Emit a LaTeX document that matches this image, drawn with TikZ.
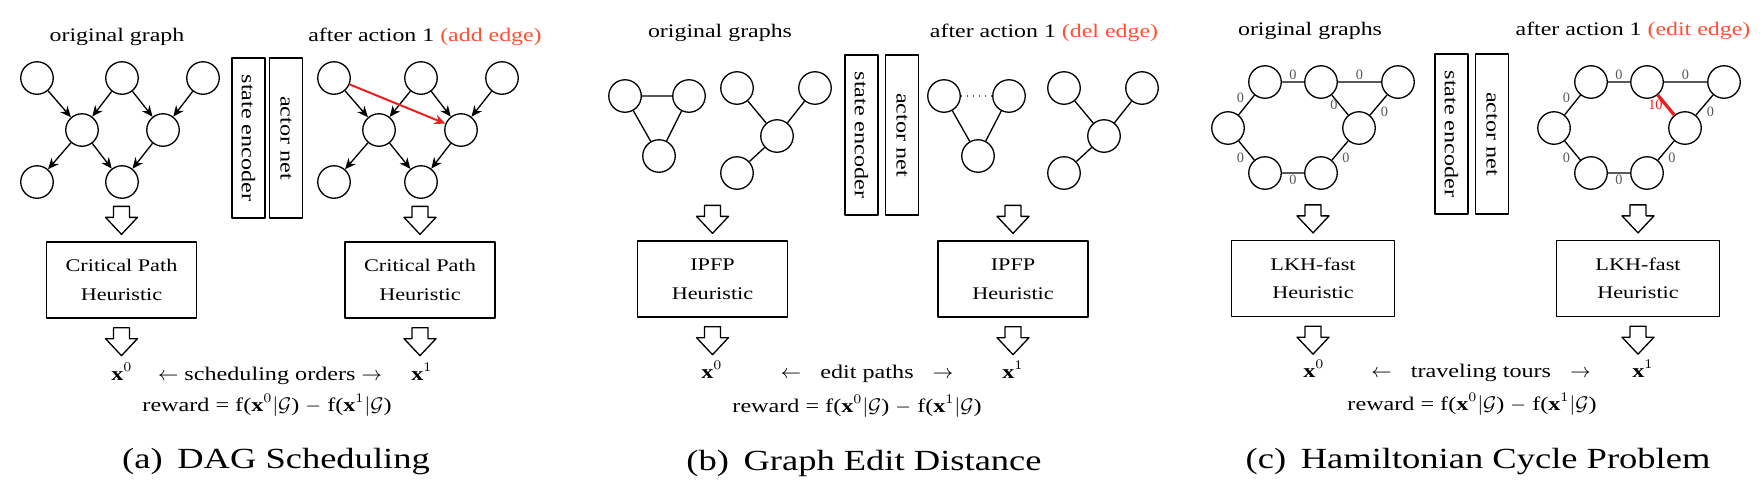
\documentclass[tikz,border=0pt]{standalone}
\usepackage{fontspec}
\setmainfont{Liberation Serif}[FakeStretch=1.25]
\newfontfamily\wtfont{Liberation Serif}
\usetikzlibrary{arrows.meta,calc}
\definecolor{actred}{RGB}{255,80,50}
\definecolor{edgered}{RGB}{235,30,30}

\begin{document}
\begin{tikzpicture}[x=0.016cm,y=-0.016cm,>={Stealth[length=5pt,width=4.4pt]},line join=round,line width=.6pt,
	vtx/.style={circle,draw,minimum size=0.52cm,inner sep=0pt},
	heur/.style={draw,minimum width=2.4cm,minimum height=1.216cm,align=center,font=\fontsize{8.1}{13}\selectfont},
	net/.style={draw,rotate=-90,minimum width=2.56cm,minimum height=0.53cm,inner sep=0pt,font=\fontsize{8.8}{11}\selectfont},
	ttl/.style={anchor=base,font=\fontsize{8.7}{11}\selectfont},
	txt/.style={anchor=base,font=\fontsize{8.8}{11}\selectfont},
	subcap/.style={anchor=base,font=\fontsize{13.3}{16}\selectfont},
	wt/.style={font=\wtfont\fontsize{6.5}{7}\selectfont,text=black!65,inner sep=.8pt},
	hollow/.pic={\draw[fill=white] (-8,0)--(8,0)--(8,11)--(16,11)--(0,28)--(-16,11)--(-8,11)--cycle;}]
	\useasboundingbox (0,0) rectangle (1760,489);
	% (a) DAG scheduling
	\node[ttl] (ta0) at (117,41) {original graph};
	\node[ttl] (ta1) at (425,41) {after action 1 \textcolor{actred}{(add edge)}};
	\node[vtx] (d1) at (37,78) {}; \node[vtx] (d2) at (122,78) {}; \node[vtx] (d3) at (203,78) {};
	\node[vtx] (d4) at (82,130) {}; \node[vtx] (d5) at (163,130) {};
	\node[vtx] (d6) at (37,182) {}; \node[vtx] (d7) at (122,182) {};
	\draw[->] (d1) edge (d4) (d2) edge (d4) edge (d5) (d3) edge (d5) (d4) edge (d6) edge (d7) (d5) edge (d7);
	\node[vtx] (e1) at (334,78) {}; \node[vtx] (e2) at (421,78) {}; \node[vtx] (e3) at (502,78) {};
	\node[vtx] (e4) at (379,130) {}; \node[vtx] (e5) at (461,130) {};
	\node[vtx] (e6) at (334,182) {}; \node[vtx] (e7) at (421,182) {};
	\draw[->] (e1) edge (e4) (e2) edge (e4) edge (e5) (e3) edge (e5) (e4) edge (e6) edge (e7) (e5) edge (e7);
	\draw[->,edgered,line width=.9pt] (e1)--(e5);
	\node[net] (sa) at (248.5,138) {state encoder};
	\node[net] (na) at (286,138) {actor net};
	\node[heur] (ha0) at (121.5,280) {Critical Path\\Heuristic};
	\node[heur] (ha1) at (420,280) {Critical Path\\Heuristic};
	\pic at ($(ha0.north)+(0,-35)$) {hollow}; \pic at ($(ha0.south)+(0,9)$) {hollow};
	\pic at ($(ha1.north)+(0,-35)$) {hollow}; \pic at ($(ha1.south)+(0,9)$) {hollow};
	\node[txt] (xa0) at (122,380) {\textbf{x}$^0$};
	\node[txt] (xa1) at (422,380) {\textbf{x}$^1$};
	\node[txt] (oa) at (270,380) {$\leftarrow$ scheduling orders $\rightarrow$};
	\node[txt] (ra) at (267,411) {reward = f(\textbf{x}$^0|\mathcal{G}$) $-$ f(\textbf{x}$^1|\mathcal{G}$)};
	\node[subcap] (ca) at (276,468) {(a)\enspace DAG Scheduling};
	% (b) graph edit distance
	\node[ttl] (tb0) at (720,37) {original graphs};
	\node[ttl] (tb1) at (1044,37) {after action 1 \textcolor{actred}{(del edge)}};
	\node[vtx] (g1) at (625,96) {}; \node[vtx] (g2) at (689,96) {}; \node[vtx] (g3) at (659,156) {};
	\node[vtx] (g4) at (737,88) {}; \node[vtx] (g5) at (815,88) {}; \node[vtx] (g6) at (777,136) {}; \node[vtx] (g7) at (737,173) {};
	\draw (g1)--(g2) (g2)--(g3) (g3)--(g1) (g4)--(g6) (g5)--(g6) (g6)--(g7);
	\node[vtx] (h1) at (944,96) {}; \node[vtx] (h2) at (1009,96) {}; \node[vtx] (h3) at (978,156) {};
	\node[vtx] (h4) at (1064,88) {}; \node[vtx] (h5) at (1142,88) {}; \node[vtx] (h6) at (1104,136) {}; \node[vtx] (h7) at (1064,173) {};
	\draw (h1)--(h3) (h2)--(h3) (h4)--(h6) (h5)--(h6) (h6)--(h7);
	\draw[edgered,dotted,line width=.7pt] (h1)--(h2);
	\node[net] (sb) at (861.5,135) {state encoder};
	\node[net] (nb) at (902,135) {actor net};
	\node[heur] (hb0) at (712.5,279) {IPFP\\Heuristic};
	\node[heur] (hb1) at (1013,279) {IPFP\\Heuristic};
	\pic at ($(hb0.north)+(0,-35)$) {hollow}; \pic at ($(hb0.south)+(0,9)$) {hollow};
	\pic at ($(hb1.north)+(0,-35)$) {hollow}; \pic at ($(hb1.south)+(0,9)$) {hollow};
	\node[txt] (xb0) at (712,378) {\textbf{x}$^0$};
	\node[txt] (xb1) at (1013,378) {\textbf{x}$^1$};
	\node[txt] (ob) at (867,378) {$\leftarrow$\quad edit paths\quad$\rightarrow$};
	\node[txt] (rb) at (857,412) {reward = f(\textbf{x}$^0|\mathcal{G}$) $-$ f(\textbf{x}$^1|\mathcal{G}$)};
	\node[subcap] (cb) at (864,470) {(b)\enspace Graph Edit Distance};
	% (c) hamiltonian cycle
	\node[ttl] (tc0) at (1310,35) {original graphs};
	\node[ttl] (tc1) at (1633,35) {after action 1 \textcolor{actred}{(edit edge)}};
	\node[vtx] (c1) at (1265,82) {}; \node[vtx] (c2) at (1321,82) {}; \node[vtx] (c3) at (1398,82) {};
	\node[vtx] (c4) at (1359,128) {}; \node[vtx] (c5) at (1228,128) {};
	\node[vtx] (c6) at (1265,173) {}; \node[vtx] (c7) at (1321,173) {};
	\draw (c1)--node[wt,above]{0}(c2) (c2)--node[wt,above]{0}(c3) (c2)--node[wt,left]{0}(c4) (c3)--node[wt,below right]{0}(c4)
		(c5)--node[wt,above left]{0}(c1) (c5)--node[wt,below left]{0}(c6) (c6)--node[wt,below]{0}(c7) (c7)--node[wt,below right]{0}(c4);
	\node[vtx] (k1) at (1591,82) {}; \node[vtx] (k2) at (1647,82) {}; \node[vtx] (k3) at (1724,82) {};
	\node[vtx] (k4) at (1685,128) {}; \node[vtx] (k5) at (1554,128) {};
	\node[vtx] (k6) at (1591,173) {}; \node[vtx] (k7) at (1647,173) {};
	\draw (k1)--node[wt,above]{0}(k2) (k2)--node[wt,above]{0}(k3) (k3)--node[wt,below right]{0}(k4)
		(k5)--node[wt,above left]{0}(k1) (k5)--node[wt,below left]{0}(k6) (k6)--node[wt,below]{0}(k7) (k7)--node[wt,below right]{0}(k4);
	\draw[edgered,line width=1.5pt] (k2)--node[wt,left,text=edgered]{10}(k4);
	\node[net] (sc) at (1451.5,134) {state encoder};
	\node[net] (nc) at (1492,134) {actor net};
	\node[heur,minimum width=2.608cm] (hc0) at (1313,278.5) {LKH-fast\\Heuristic};
	\node[heur,minimum width=2.608cm] (hc1) at (1638,278.5) {LKH-fast\\Heuristic};
	\pic at ($(hc0.north)+(0,-35)$) {hollow}; \pic at ($(hc0.south)+(0,9)$) {hollow};
	\pic at ($(hc1.north)+(0,-35)$) {hollow}; \pic at ($(hc1.south)+(0,9)$) {hollow};
	\node[txt] (xc0) at (1314,377) {\textbf{x}$^0$};
	\node[txt] (xc1) at (1643,377) {\textbf{x}$^1$};
	\node[txt] (oc) at (1481,377) {$\leftarrow$\quad traveling tours\quad$\rightarrow$};
	\node[txt] (rc) at (1472,410) {reward = f(\textbf{x}$^0|\mathcal{G}$) $-$ f(\textbf{x}$^1|\mathcal{G}$)};
	\node[subcap] (cc) at (1478,468) {(c)\enspace Hamiltonian Cycle Problem};
\end{tikzpicture}
\end{document}
